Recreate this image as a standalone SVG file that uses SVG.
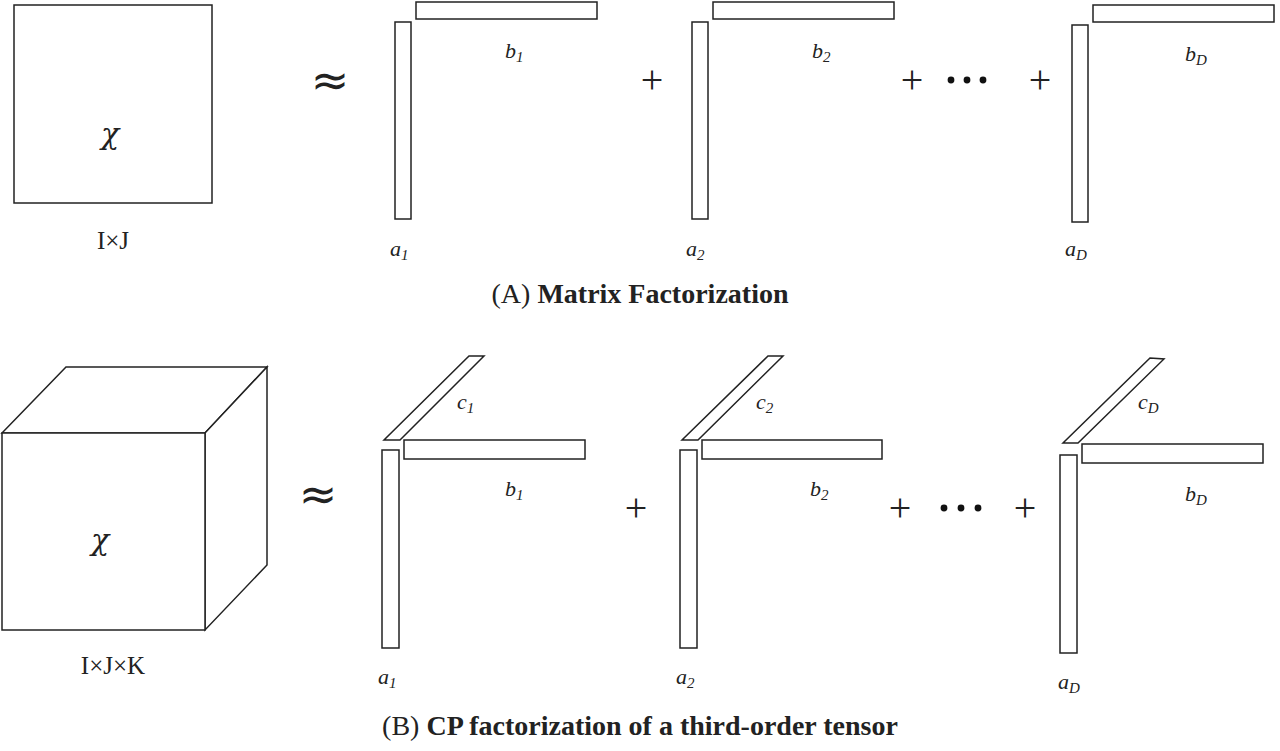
<svg xmlns="http://www.w3.org/2000/svg" width="1280" height="751" viewBox="0 0 1280 751">
<style>
.s{fill:#fff;stroke:#222;stroke-width:1.5}
.t{font-family:"Liberation Serif",serif;fill:#222}
.i{font-family:"Liberation Serif",serif;font-style:italic;font-size:22px;fill:#222}
.sub{font-size:15px}
.chi{font-family:"DejaVu Serif","Liberation Serif",serif;font-style:italic;font-size:30px;fill:#222;text-anchor:middle}
.op{font-family:"Liberation Serif",serif;font-size:40px;fill:#222;text-anchor:middle}
.ap{font-family:"DejaVu Sans",sans-serif;font-size:46px;fill:#222;text-anchor:middle}
</style>
<rect width="1280" height="751" fill="#fff"/>
<g id="matrixX">
<rect class="s" x="14" y="5" width="198" height="198"/>
<text class="chi" x="110" y="144">χ</text>
<text class="t" x="113" y="249" style="font-size:25px" text-anchor="middle">I×J</text>
</g>
<text class="ap" x="330" y="96">≈</text>
<g id="mf1">
<rect class="s" x="395" y="22" width="16" height="197"/>
<rect class="s" x="416" y="2" width="181" height="17"/>
<text class="i" x="505" y="58">b<tspan class="sub" dy="4">1</tspan></text>
<text class="i" x="390" y="256">a<tspan class="sub" dy="4">1</tspan></text>
</g>
<text class="op" x="652" y="93">+</text>
<g id="mf2">
<rect class="s" x="692" y="22" width="16" height="197"/>
<rect class="s" x="713" y="2" width="181" height="17"/>
<text class="i" x="812" y="58">b<tspan class="sub" dy="4">2</tspan></text>
<text class="i" x="686" y="256">a<tspan class="sub" dy="4">2</tspan></text>
</g>
<text class="op" x="912" y="93">+</text>
<g fill="#111"><circle cx="951" cy="80" r="3.4"/><circle cx="967" cy="80" r="3.4"/><circle cx="983" cy="80" r="3.4"/></g>
<text class="op" x="1040" y="93">+</text>
<g id="mfD">
<rect class="s" x="1072" y="25" width="16" height="197"/>
<rect class="s" x="1093" y="5" width="181" height="17"/>
<text class="i" x="1185" y="61">b<tspan class="sub" dy="4">D</tspan></text>
<text class="i" x="1065" y="256">a<tspan class="sub" dy="4">D</tspan></text>
</g>
<text class="t" x="640" y="303" style="font-size:28px" text-anchor="middle">(A) <tspan font-weight="bold">Matrix Factorization</tspan></text>

<g id="tensorX">
<polygon class="s" points="2,433 66,367 267,367 205,433"/>
<polygon class="s" points="205,433 267,367 267,565 205,630"/>
<rect class="s" x="2" y="433" width="203" height="197"/>
<text class="chi" x="100" y="550">χ</text>
<text class="t" x="113" y="674" style="font-size:25px" text-anchor="middle">I×J×K</text>
</g>
<text class="ap" x="318" y="510">≈</text>
<g id="cp1">
<polygon class="s" points="384,440 400,440 484,356 469,356"/>
<rect class="s" x="382" y="450" width="17" height="198"/>
<rect class="s" x="404" y="440" width="181" height="19"/>
<text class="i" x="457" y="409">c<tspan class="sub" dy="4">1</tspan></text>
<text class="i" x="505" y="496">b<tspan class="sub" dy="4">1</tspan></text>
<text class="i" x="378" y="684">a<tspan class="sub" dy="4">1</tspan></text>
</g>
<text class="op" x="636" y="521">+</text>
<g id="cp2">
<polygon class="s" points="682,440 698,440 783,356 768,356"/>
<rect class="s" x="680" y="450" width="17" height="198"/>
<rect class="s" x="702" y="440" width="180" height="19"/>
<text class="i" x="756" y="409">c<tspan class="sub" dy="4">2</tspan></text>
<text class="i" x="810" y="496">b<tspan class="sub" dy="4">2</tspan></text>
<text class="i" x="676" y="684">a<tspan class="sub" dy="4">2</tspan></text>
</g>
<text class="op" x="900" y="521">+</text>
<g fill="#111"><circle cx="944" cy="508" r="3.4"/><circle cx="961" cy="508" r="3.4"/><circle cx="978" cy="508" r="3.4"/></g>
<text class="op" x="1025" y="521">+</text>
<g id="cpD">
<polygon class="s" points="1063,443 1078,443 1164,359 1150,358"/>
<rect class="s" x="1060" y="455" width="17" height="198"/>
<rect class="s" x="1082" y="444" width="181" height="19"/>
<text class="i" x="1138" y="409">c<tspan class="sub" dy="4">D</tspan></text>
<text class="i" x="1185" y="501">b<tspan class="sub" dy="4">D</tspan></text>
<text class="i" x="1058" y="689">a<tspan class="sub" dy="4">D</tspan></text>
</g>
<text class="t" x="640" y="735" style="font-size:28px" text-anchor="middle">(B) <tspan font-weight="bold">CP factorization of a third-order tensor</tspan></text>
</svg>
